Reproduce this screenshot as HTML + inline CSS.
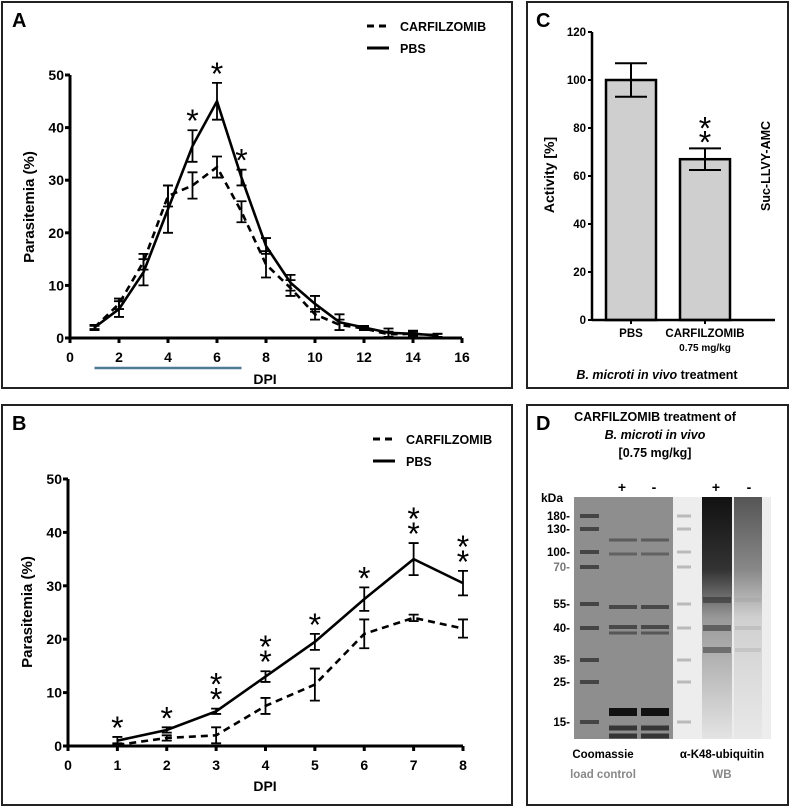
<!DOCTYPE html>
<html><head><meta charset="utf-8"><style>
html,body{margin:0;padding:0;background:#fff}
svg{display:block;font-family:"Liberation Sans",sans-serif}
.b{font-weight:bold}
</style></head><body>
<svg id="fig" width="790" height="807" viewBox="0 0 790 807" xmlns="http://www.w3.org/2000/svg">
<defs>
<linearGradient id="smear" x1="0" y1="0" x2="0" y2="1">
<stop offset="0" stop-color="#111"/><stop offset="0.3" stop-color="#333"/><stop offset="0.5" stop-color="#999"/><stop offset="1" stop-color="#e4e4e4"/></linearGradient>
<linearGradient id="smear2" x1="0" y1="0" x2="0" y2="1">
<stop offset="0" stop-color="#555"/><stop offset="0.3" stop-color="#888"/><stop offset="0.5" stop-color="#d0d0d0"/><stop offset="1" stop-color="#e8e8e8"/></linearGradient>
</defs>
<rect x="2" y="2" width="510" height="386" fill="none" stroke="#222" stroke-width="2"/>
<rect x="2" y="405" width="510" height="400" fill="none" stroke="#222" stroke-width="2"/>
<rect x="527" y="2" width="261" height="386" fill="none" stroke="#222" stroke-width="2"/>
<rect x="527" y="405" width="261" height="400" fill="none" stroke="#222" stroke-width="2"/>
<text x="12" y="27" font-size="20" class="b">A</text>
<text x="12" y="430" font-size="20" class="b">B</text>
<text x="536" y="27" font-size="20" class="b">C</text>
<text x="536" y="430" font-size="20" class="b">D</text>
<g id="ga"></g><g id="gb"></g><g id="gc"></g>
<g id="gd">
<text x="655" y="421" font-size="12.5" class="b" text-anchor="middle">CARFILZOMIB treatment of</text>
<text x="655" y="439" font-size="12.5" class="b" font-style="italic" text-anchor="middle">B. microti in vivo</text>
<text x="655" y="457" font-size="12.5" class="b" text-anchor="middle">[0.75 mg/kg]</text>
<text x="622" y="492" font-size="14" class="b" text-anchor="middle">+</text>
<text x="654" y="492" font-size="14" class="b" text-anchor="middle">-</text>
<text x="716" y="492" font-size="14" class="b" text-anchor="middle">+</text>
<text x="749" y="492" font-size="14" class="b" text-anchor="middle">-</text>
<text x="541" y="502" font-size="12" class="b">kDa</text>
<rect x="574" y="497" width="99" height="242" fill="#8e8e8e"/>
<rect x="673" y="497" width="98" height="242" fill="#ededed"/>
<rect x="702" y="497" width="30" height="242" fill="url(#smear)"/>
<rect x="734" y="497" width="28" height="242" fill="url(#smear2)"/>
<g id="markers"></g>
<text x="603" y="758" font-size="11.5" class="b" text-anchor="middle">Coomassie</text>
<text x="603" y="778" font-size="11.5" class="b" fill="#888" text-anchor="middle">load control</text>
<text x="722" y="758" font-size="11.5" class="b" text-anchor="middle">α-K48-ubiquitin</text>
<text x="722" y="778" font-size="11.5" class="b" fill="#888" text-anchor="middle">WB</text>
</g>
</svg>
<script>
const NS="http://www.w3.org/2000/svg";
function mk(p,t,a,txt){const e=document.createElementNS(NS,t);for(const k in a)e.setAttribute(k,a[k]);if(txt!==undefined)e.textContent=txt;p.appendChild(e);return e;}

// Panel A data
const aDays=[1,2,3,4,5,6,7,8,9,10,11,12,13,14,15];
const aPbs=[2,5.5,12.5,24.5,36.5,45,30.5,17.5,10.5,6.5,3,2,1,0.8,0.5];
const aPbsErr=[0.5,1.5,2.5,4.5,3,3.5,1.5,1.5,1.5,1.5,1.5,0.3,0.8,0.6,0.3];
const aCarf=[2,6.5,14.5,27,29,32.5,24,14,9.5,4.5,2.5,1.8,0.7,0.8,0.5];
const aCarfErr=[0.3,1,1.5,2,2.5,2,2,2.5,1.5,1,1,0.3,0.5,0.4,0.3];
const aStars=[0,0,0,0,1,1,1,0,0,0,0,0,0,0,0];
const aXTicks=[0,2,4,6,8,10,12,14,16];
const aYTicks=[0,10,20,30,40,50];
// Panel B data
const bDays=[1,2,3,4,5,6,7,8];
const bPbs=[1,3,6.5,13,19.5,27.5,35,30.5];
const bPbsErr=[0.7,0.5,0.5,1,1.5,2.2,3,2.3];
const bCarf=[0.2,1.5,2,7.5,11.5,21,24,22];
const bCarfErr=[0.3,0.5,1.5,1.5,3,2.7,0.6,1.7];
const bStars=[1,1,2,2,1,1,2,2];
const bXTicks=[0,1,2,3,4,5,6,7,8];
const bYTicks=[0,10,20,30,40,50];
// Panel C data
const cCats=["PBS","CARFILZOMIB"];
const cVals=[100,67];
const cErr=[7,4.5];
const cStars=[0,2];
const cYTicks=[0,20,40,60,80,100,120];

function star(g,x,cy){
  const s=mk(g,'text',{x:x,y:cy+15,'font-size':32,'text-anchor':'middle'},'*');
  
}

function lineChart(g,o){
  const sx=v=>o.x0+(v-o.xmin)*(o.x1-o.x0)/(o.xmax-o.xmin);
  const sy=v=>o.y0-(v)*(o.y0-o.y1)/o.ymax;
  mk(g,'line',{x1:o.x0,y1:o.y0,x2:sx(o.xmax),y2:o.y0,stroke:'#000','stroke-width':3,});
  mk(g,'line',{x1:o.x0,y1:o.y0+1.5,x2:o.x0,y2:sy(o.ymax),stroke:'#000','stroke-width':3,});
  o.xt.forEach(t=>{mk(g,'line',{x1:sx(t),y1:o.y0,x2:sx(t),y2:o.y0+5,stroke:'#000','stroke-width':3});
    const e=mk(g,'text',{x:sx(t),y:o.y0+24,'font-size':14,'font-weight':'bold','text-anchor':'middle'},t);
    });
  o.yt.forEach(t=>{mk(g,'line',{x1:o.x0-5,y1:sy(t),x2:o.x0,y2:sy(t),stroke:'#000','stroke-width':3});
    const e=mk(g,'text',{x:o.x0-6,y:sy(t)+5,'font-size':14,'font-weight':'bold','text-anchor':'end'},t);
    });
  const xl=mk(g,'text',{x:o.xlx,y:o.xly,'font-size':14,'font-weight':'bold','text-anchor':'middle'},'DPI');
  
  const yl=mk(g,'text',{x:0,y:0,'font-size':15,'font-weight':'bold','text-anchor':'middle',transform:`translate(${o.ylx},${o.yly}) rotate(-90)`},'Parasitemia (%)');
  
  [[o.carf,o.carfErr,'7,5','carfilzomib-line'],[o.pbs,o.pbsErr,'','pbs-line']].forEach(([v,er,da,nm])=>{
    const p=mk(g,'polyline',{points:o.days.map((d,i)=>sx(d)+','+sy(v[i])).join(' '),fill:'none',stroke:'#000','stroke-width':2.6,'stroke-dasharray':da});
    
    o.days.forEach((d,i)=>{const x=sx(d),a=sy(v[i]+er[i]),b=sy(Math.max(0,v[i]-er[i]));
      const eb=mk(g,'path',{d:`M${x},${a}V${b}M${x-5},${a}H${x+5}M${x-5},${b}H${x+5}`,stroke:'#000','stroke-width':1.8,fill:'none'});
      });
  });
  o.days.forEach((d,i)=>{const top=Math.max(o.pbs[i]+o.pbsErr[i],o.carf[i]+o.carfErr[i]);
    for(let k=0;k<o.stars[i];k++) star(g,sx(d),sy(top)-13-k*15);});
  mk(g,'line',{x1:o.lx,y1:o.ly,x2:o.lx+22,y2:o.ly,stroke:'#000','stroke-width':3,'stroke-dasharray':'7,5'});
  mk(g,'line',{x1:o.lx,y1:o.ly+22,x2:o.lx+22,y2:o.ly+22,stroke:'#000','stroke-width':3});
  const l1=mk(g,'text',{x:o.lx+33,y:o.ly+5,'font-size':12.5,'font-weight':'bold'},'CARFILZOMIB');
  
  const l2=mk(g,'text',{x:o.lx+33,y:o.ly+27,'font-size':12.5,'font-weight':'bold'},'PBS');
  
  return sx;
}
const sxa=lineChart(document.getElementById('ga'),{x0:70,x1:462,xmin:0,xmax:16,y0:338,y1:75,ymax:50,xt:aXTicks,yt:aYTicks,days:aDays,pbs:aPbs,pbsErr:aPbsErr,carf:aCarf,carfErr:aCarfErr,stars:aStars,xlx:265,xly:384,ylx:34,yly:207,lx:367,ly:26});
const bl=mk(document.getElementById('ga'),'line',{x1:sxa(1),y1:368,x2:sxa(7),y2:368,stroke:'#4f7a94','stroke-width':2.5});

lineChart(document.getElementById('gb'),{x0:68,x1:463,xmin:0,xmax:8,y0:746,y1:479,ymax:50,xt:bXTicks,yt:bYTicks,days:bDays,pbs:bPbs,pbsErr:bPbsErr,carf:bCarf,carfErr:bCarfErr,stars:bStars,xlx:265,xly:791,ylx:32,yly:612,lx:373,ly:439});

// Panel C
(function(){
  const g=document.getElementById('gc');
  const x0=592,y0=320,y1=32,ymax=120;
  const sy=v=>y0-v*(y0-y1)/ymax;
  const bx=i=>606+i*74, bw=50;
  cVals.forEach((v,i)=>{
    const r=mk(g,'rect',{x:bx(i),y:sy(v),width:bw,height:y0-sy(v),fill:'#cfcfcf',stroke:'#000','stroke-width':2.5});
    
    const cx=bx(i)+bw/2,a=sy(v+cErr[i]),b=sy(v-cErr[i]);
    const e=mk(g,'path',{d:`M${cx},${a}V${b}M${cx-16},${a}H${cx+16}M${cx-16},${b}H${cx+16}`,stroke:'#000','stroke-width':2,fill:'none'});
    
    for(let k=0;k<cStars[i];k++) star(g,cx,a-10-k*14);
    const t=mk(g,'text',{x:cx,y:337,'font-size':11.5,'font-weight':'bold','text-anchor':'middle'},cCats[i]);
    
  });
  mk(g,'text',{x:bx(1)+bw/2,y:351,'font-size':10,'font-weight':'bold','text-anchor':'middle'},'0.75 mg/kg');
  mk(g,'line',{x1:x0,y1:y0,x2:775,y2:y0,stroke:'#000','stroke-width':2.5,});
  mk(g,'line',{x1:x0,y1:y0+1,x2:x0,y2:y1,stroke:'#000','stroke-width':2.5,});
  [0,1].forEach(i=>{const cx=bx(i)+bw/2;mk(g,'line',{x1:cx,y1:y0,x2:cx,y2:y0+4,stroke:'#000','stroke-width':2});});
  cYTicks.forEach(t=>{mk(g,'line',{x1:x0-4,y1:sy(t),x2:x0,y2:sy(t),stroke:'#000','stroke-width':2});
    const e=mk(g,'text',{x:x0-6,y:sy(t)+4,'font-size':11.5,'font-weight':'bold','text-anchor':'end'},t);
    });
  const yl=mk(g,'text',{x:0,y:0,'font-size':14,'font-weight':'bold','text-anchor':'middle',transform:'translate(554,175) rotate(-90)'},'Activity [%]');
  
  const s2=mk(g,'text',{x:0,y:0,'font-size':12.5,'font-weight':'bold','text-anchor':'middle',transform:'translate(770,166) rotate(-90)'},'Suc-LLVY-AMC');
  
  const xt=mk(g,'text',{x:657,y:379,'font-size':12.5,'font-weight':'bold','text-anchor':'middle'},'');
  mk(xt,'tspan',{'font-style':'italic'},'B. microti in vivo');mk(xt,'tspan',{},' treatment');
  
})();

// Panel D markers and bands
const kdaLabels=["180-","130-","100-","70-","55-","40-","35-","25-","15-"];
const kdaY=[516,529,552,567,604,628,660,682,722];
(function(){
  const g=document.getElementById('markers');
  kdaLabels.forEach((l,i)=>{
    const t=mk(g,'text',{x:570,y:kdaY[i]+4,'font-size':11.5,'font-weight':'bold','text-anchor':'end',fill:l==="70-"?'#777':'#000'},l);
    
    mk(g,'rect',{x:580,y:kdaY[i]-2,width:19,height:4,fill:'#333',opacity:0.8});
    mk(g,'rect',{x:677,y:kdaY[i]-1.5,width:14,height:3,fill:'#888',opacity:0.5});
  });
  const lanes=[609,641];
  const bands=[[540,0.4,3],[554,0.35,3],[607,0.55,4],[627,0.55,4],[633,0.45,3],[712,1,8],[728,0.7,5],[736,0.7,5]];
  lanes.forEach(x=>bands.forEach(([y,op,h])=>mk(g,'rect',{x:x,y:y-h/2,width:28,height:h,fill:'#111',opacity:op})));
  [[600,0.5],[628,0.5],[650,0.45]].forEach(([y,op])=>{mk(g,'rect',{x:703,y:y-3,width:28,height:6,fill:'#222',opacity:op});mk(g,'rect',{x:735,y:y-2,width:26,height:4,fill:'#999',opacity:op*0.6});});
})();
</script>
</body></html>
